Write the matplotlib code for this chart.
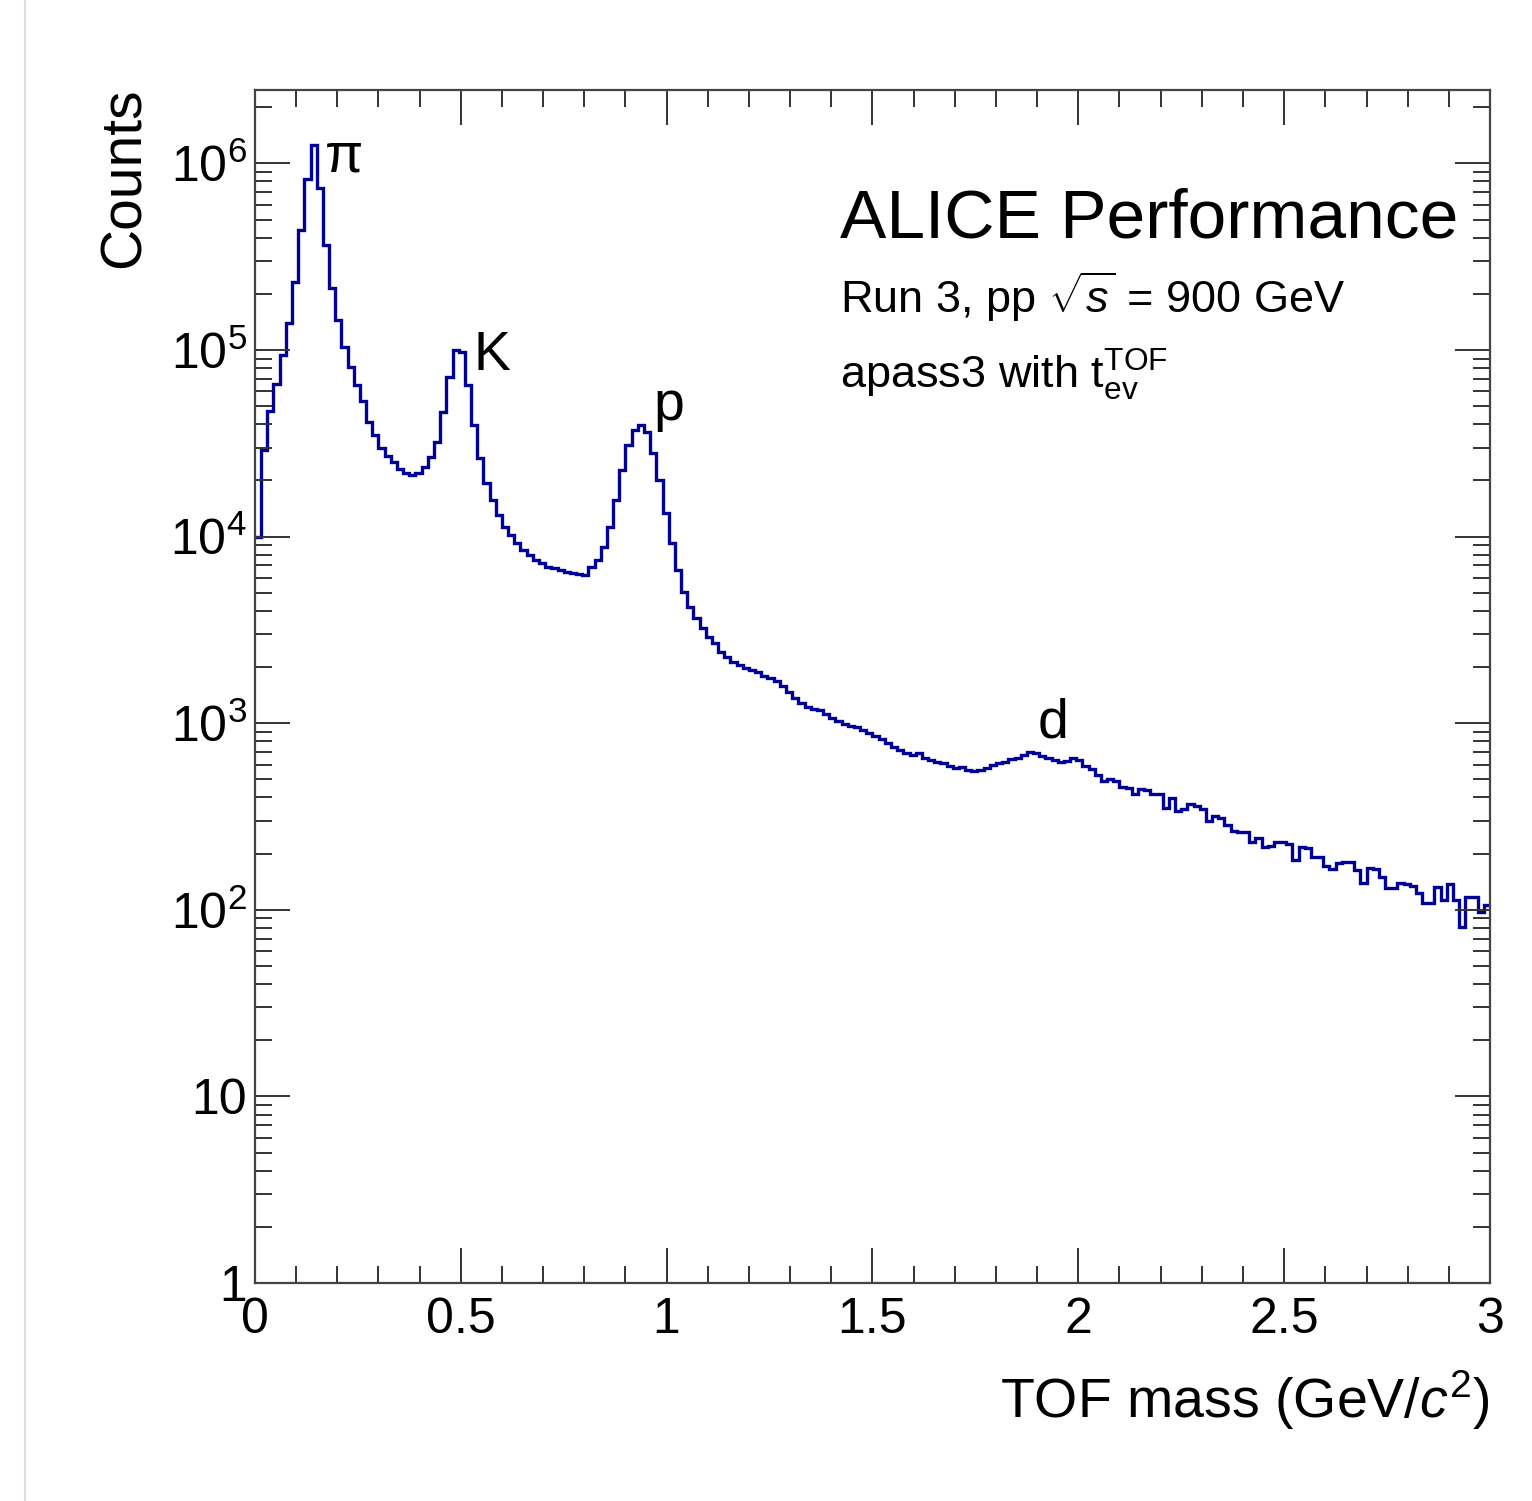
import numpy as np
import matplotlib
matplotlib.use("Agg")
import matplotlib.pyplot as plt
from matplotlib.ticker import FixedLocator, FixedFormatter, MultipleLocator, LogLocator, NullFormatter
from matplotlib.lines import Line2D

plt.rcParams['font.family'] = ['Liberation Sans', 'DejaVu Sans']
plt.rcParams['mathtext.fontset'] = 'custom'
plt.rcParams['mathtext.rm'] = 'Liberation Sans'
plt.rcParams['mathtext.it'] = 'Liberation Sans:italic'
plt.rcParams['mathtext.bf'] = 'Liberation Sans:bold'

# histogram: 200 bins of 0.015 GeV/c^2 from 0 to 3
x_min, x_max, n_bins = 0.0, 3.0, 200

# bins 0-24: pion peak and its tail
pion_region = [1.0e4, 2.9e4, 4.7e4, 6.6e4, 9.4e4, 1.4e5, 2.3e5, 4.4e5, 8.2e5, 1.26e6,
               7.4e5, 3.65e5, 2.15e5, 1.45e5, 1.04e5, 8.1e4, 6.5e4, 5.3e4, 4.1e4, 3.5e4,
               3.0e4, 2.7e4, 2.5e4, 2.3e4, 2.2e4]
# bins 25-52: kaon peak
kaon_region = [2.15e4, 2.2e4, 2.36e4, 2.67e4, 3.2e4, 4.66e4, 7.2e4, 1.0e5, 9.8e4, 6.5e4,
               3.96e4, 2.64e4, 1.94e4, 1.57e4, 1.31e4, 1.13e4, 1.02e4, 9.25e3, 8.5e3, 7.97e3,
               7.5e3, 7.2e3, 6.9e3, 6.8e3, 6.6e3, 6.46e3, 6.4e3, 6.3e3]
# bins 53-85: proton peak
proton_region = [6.2e3, 6.9e3, 7.5e3, 8.8e3, 1.13e4, 1.57e4, 2.27e4, 3.1e4, 3.73e4, 3.96e4,
                 3.64e4, 2.8e4, 2.01e4, 1.34e4, 9.25e3, 6.6e3, 5.05e3, 4.2e3, 3.66e3, 3.24e3,
                 2.9e3, 2.69e3, 2.41e3, 2.26e3, 2.13e3, 2.05e3, 1.98e3, 1.93e3, 1.87e3, 1.80e3,
                 1.75e3, 1.68e3, 1.58e3]
# bins 86-136: deuteron bump
deuteron_region = [1469, 1365, 1283, 1222, 1191, 1177, 1121, 1067, 1028, 991,
                   966, 955, 920, 887, 855, 824, 784, 746, 718, 692,
                   676, 692, 651, 635, 620, 612, 590, 575, 582, 561,
                   554, 561, 575, 597, 612, 620, 643, 651, 676, 701,
                   692, 667, 651, 635, 620, 627, 651, 635, 590, 569,
                   530]
# bins 137-199: high-mass tail
tail_region = [490, 500, 492, 455, 450, 415, 445, 440, 420, 418,
               350, 395, 340, 345, 370, 362, 346, 298, 320, 312,
               286, 266, 262, 262, 232, 244, 218, 221, 232, 232,
               224, 186, 218, 214, 193, 193, 172, 166, 178, 180,
               180, 163, 139, 167, 166, 150, 131, 131, 139, 138,
               134, 123, 109, 109, 132, 113, 138, 113, 81, 117,
               117, 97, 106]

species = ['π', 'K', 'p', 'd']
species_x = [0.170, 0.530, 0.967, 1.900]
species_y = [9.0e5, 7.8e4, 4.2e4, 834]

y_tick_values = [1, 10, 1e2, 1e3, 1e4, 1e5, 1e6]
y_tick_labels = ['1', '10', '$10^{2}$', '$10^{3}$', '$10^{4}$', '$10^{5}$', '$10^{6}$']
x_tick_values = [0, 0.5, 1, 1.5, 2, 2.5, 3]
x_tick_labels = ['0', '0.5', '1', '1.5', '2', '2.5', '3']

counts = np.array(pion_region + kaon_region + proton_region + deuteron_region + tail_region)
edges = np.linspace(x_min, x_max, n_bins + 1)

fig = plt.figure(figsize=(15.32, 15.01), dpi=100)
ax = fig.add_axes([0.1664, 0.1452, 0.8062, 0.7948])

ax.stairs(counts, edges, baseline=None, color='#000099', linewidth=2.4)

ax.set_xlim(x_min, x_max)
ax.set_yscale('log')
ax.set_ylim(1, 2.47e6)

ax.xaxis.set_major_locator(FixedLocator(x_tick_values))
ax.xaxis.set_major_formatter(FixedFormatter(x_tick_labels))
ax.xaxis.set_minor_locator(MultipleLocator(0.1))
ax.yaxis.set_major_locator(FixedLocator(y_tick_values))
ax.yaxis.set_major_formatter(FixedFormatter(y_tick_labels))
ax.yaxis.set_minor_locator(LogLocator(base=10, subs=np.arange(2, 10), numticks=20))
ax.yaxis.set_minor_formatter(NullFormatter())

ax.tick_params(which='both', direction='in', top=True, right=True, color='#333333', width=1.4)
ax.tick_params(which='major', length=25)
ax.tick_params(which='minor', length=12)
ax.tick_params(axis='x', labelsize=36, pad=10)
ax.tick_params(axis='y', labelsize=36, pad=6)
for s in ax.spines.values():
    s.set_linewidth(1.6)
    s.set_color('#444444')

fig.text(125 / 1532, 1 - 88 / 1501, 'Counts', rotation=90, ha='center', va='top', fontsize=41)
fig.text(1490 / 1532, 1 - 1400 / 1501, 'TOF mass (GeV/$c^{2}$)', ha='right', va='center', fontsize=40)

for lab, xx, yy in zip(species, species_x, species_y):
    ax.text(xx, yy, lab, fontsize=40, ha='left', va='baseline')

ax.text(0.4737, 0.876, 'ALICE Performance', transform=ax.transAxes, fontsize=50, ha='left', va='baseline')
ax.text(0.4737, 0.813, 'Run 3, pp $\\sqrt{s}$ = 900 GeV', transform=ax.transAxes, fontsize=32.5,
        ha='left', va='baseline')
ax.text(0.4737, 0.750, 'apass3 with $\\mathrm{t}_{\\mathrm{ev}}^{\\mathrm{TOF}}$', transform=ax.transAxes,
        fontsize=32.5, ha='left', va='baseline')

# thin page border seen at the left of the original
fig.add_artist(Line2D([25 / 1532, 25 / 1532], [0, 1], transform=fig.transFigure, color='#dddddd', linewidth=1.5))

fig.savefig('out.png', dpi=100)
